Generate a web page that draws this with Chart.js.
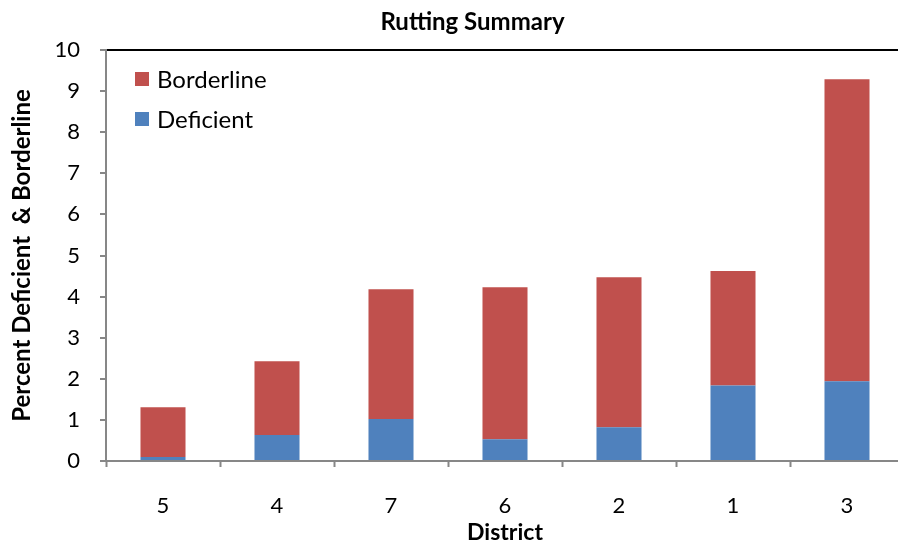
<!DOCTYPE html>
<html>
<head>
<meta charset="utf-8">
<title>Rutting Summary</title>
<script src="https://cdn.jsdelivr.net/npm/chart.js@4.4.1/dist/chart.umd.min.js"></script>
<style>
  html, body { margin: 0; padding: 0; background: #ffffff; overflow: hidden; }
  #wrap { width: 898px; height: 555px; overflow: hidden; }
  #chart { display: block; }
</style>
</head>
<body>
<div id="wrap"><canvas id="chart" width="904" height="555"></canvas></div>
<script>
// Districts in display order
const districts = ['5', '4', '7', '6', '2', '1', '3'];
// Percent of network rated deficient (lower segment)
const deficient = [0.10, 0.63, 1.02, 0.53, 0.82, 1.84, 1.94];
// Percent of network rated borderline (stacked on top)
const borderline = [1.21, 1.80, 3.16, 3.70, 3.65, 2.78, 7.35];
// Value axis ticks
const yTicks = [0, 1, 2, 3, 4, 5, 6, 7, 8, 9, 10];

const FONT = 'Lato, "Liberation Sans", sans-serif';
const AXIS_GREY = '#878787';
const TITLE = 'Rutting Summary';

// Chart heading, centred a little right of the canvas middle.
const heading = {
  id: 'heading',
  afterDraw(chart) {
    const { ctx } = chart;
    ctx.save();
    ctx.font = 'bold 24px ' + FONT;
    ctx.fillStyle = '#000';
    ctx.textAlign = 'center';
    ctx.textBaseline = 'alphabetic';
    ctx.fillText(TITLE, 472.5, 30);
    ctx.restore();
  }
};

// Vertical legend drawn in the upper-left corner of the plot area,
// topmost stack segment listed first.
const insideLegend = {
  id: 'insideLegend',
  afterDraw(chart) {
    const { ctx, chartArea } = chart;
    const sets = chart.data.datasets.slice().reverse();
    ctx.save();
    ctx.font = '24px ' + FONT;
    ctx.textBaseline = 'middle';
    ctx.textAlign = 'left';
    sets.forEach((ds, i) => {
      const cy = chartArea.top + 29 + i * 40;
      ctx.fillStyle = ds.backgroundColor;
      ctx.fillRect(chartArea.left + 29, cy - 7, 14, 14);
      ctx.fillStyle = '#000';
      ctx.fillText(ds.label, chartArea.left + 51, cy + 1);
    });
    ctx.restore();
  }
};

new Chart(document.getElementById('chart'), {
  type: 'bar',
  data: {
    labels: districts,
    datasets: [
      { label: 'Deficient', data: deficient, backgroundColor: '#4F81BD', borderWidth: 0 },
      { label: 'Borderline', data: borderline, backgroundColor: '#C0504D', borderWidth: 0 }
    ]
  },
  options: {
    responsive: false,
    animation: false,
    devicePixelRatio: 1,
    layout: { padding: { left: 0, right: 0, top: 50, bottom: 0 } },
    datasets: { bar: { barPercentage: 0.395, categoryPercentage: 1 } },
    plugins: {
      legend: { display: false },
      tooltip: { enabled: false },
      title: { display: false }
    },
    scales: {
      x: {
        stacked: true,
        offset: true,
        grid: {
          display: true,
          offset: true,
          drawOnChartArea: false,
          drawTicks: true,
          tickLength: 6,
          tickColor: AXIS_GREY,
          tickWidth: 2
        },
        border: { display: true, color: AXIS_GREY, width: 2 },
        ticks: { color: '#000', font: { family: FONT, size: 22 }, padding: 26, maxRotation: 0 },
        title: {
          display: true,
          text: 'District',
          color: '#000',
          font: { family: FONT, size: 23, weight: 'bold', lineHeight: 1.2 },
          padding: { top: 0, bottom: 9 }
        },
        afterFit(scale) { scale.height = 94; }
      },
      y: {
        stacked: true,
        min: 0,
        max: 10,
        afterBuildTicks(scale) { scale.ticks = yTicks.map(v => ({ value: v })); },
        grid: {
          display: true,
          drawOnChartArea: true,
          color: ctx => (ctx.tick && ctx.tick.value === 10 ? '#000000' : 'rgba(0,0,0,0)'),
          lineWidth: 2,
          tickLength: 6,
          tickColor: AXIS_GREY,
          tickWidth: 2
        },
        border: { display: true, color: AXIS_GREY, width: 2 },
        ticks: { color: '#000', font: { family: FONT, size: 22 }, padding: 20 },
        title: {
          display: true,
          text: 'Percent Deficient  & Borderline',
          color: '#000',
          font: { family: FONT, size: 24, weight: 'bold', lineHeight: 1.2 },
          padding: { top: 8, bottom: 0 }
        },
        afterFit(scale) { scale.width = 106; }
      }
    }
  },
  plugins: [heading, insideLegend]
});
</script>
</body>
</html>
